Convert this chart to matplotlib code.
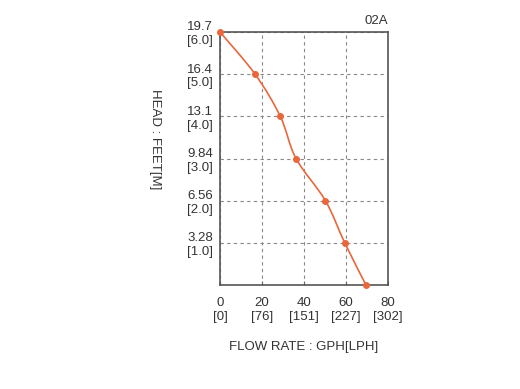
import numpy as np
import matplotlib.pyplot as plt
from matplotlib.path import Path
from matplotlib.patches import PathPatch

plt.rcParams['font.family'] = ['Liberation Sans', 'DejaVu Sans']

# pump curve: flow (GPH) vs head (m)
flow_gph = [0, 16.7, 28.7, 36.2, 50.2, 59.4, 69.5]
head_m = [6.0, 5.0, 4.0, 3.0, 2.0, 1.0, 0.0]

x_ticks = [0, 20, 40, 60, 80]
x_labels = ['0\n[0]', '20\n[76]', '40\n[151]', '60\n[227]', '80\n[302]']
y_ticks = [1, 2, 3, 4, 5, 6]
y_labels = ['3.28\n[1.0]', '6.56\n[2.0]', '9.84\n[3.0]', '13.1\n[4.0]',
            '16.4\n[5.0]', '19.7\n[6.0]']

line_col = '#e8673c'
text_col = '#333333'


def smooth_path(xs, ys, t=0.5):
    # catmull-rom style bezier through the points
    pts = np.column_stack([xs, ys]).astype(float)
    verts = [pts[0]]
    codes = [Path.MOVETO]
    n = len(pts)
    for i in range(n - 1):
        p0 = pts[i - 1] if i > 0 else pts[i]
        p1 = pts[i]
        p2 = pts[i + 1]
        p3 = pts[i + 2] if i + 2 < n else pts[i + 1]
        c1 = p1 + (p2 - p0) * t / 6
        c2 = p2 - (p3 - p1) * t / 6
        verts += [c1, c2, p2]
        codes += [Path.CURVE4] * 3
    return Path(verts, codes)


fig = plt.figure(figsize=(5.2, 3.89), dpi=100)
ax = fig.add_axes([220 / 520, 1 - 285 / 389, 168 / 520, 253 / 389])

ax.add_patch(PathPatch(smooth_path(flow_gph, head_m, t=1.0), fill=False,
                       edgecolor=line_col, lw=1.2, zorder=3, clip_on=False))
ax.plot(flow_gph, head_m, 'o', color=line_col, ms=4, zorder=4, clip_on=False)

ax.set_xlim(0, 80)
ax.set_ylim(0, 6)
ax.set_xticks(x_ticks)
ax.set_xticklabels(x_labels)
ax.set_yticks(y_ticks)
ax.set_yticklabels(y_labels)
ax.tick_params(direction='in', length=3, width=0.8, colors='#666666',
               labelcolor=text_col, labelsize=9.5)
ax.tick_params(axis='x', pad=9)
ax.tick_params(axis='y', length=0, pad=5)

ax.grid(True, ls=(0, (3, 3)), color='#888888', lw=0.8)
for s in ax.spines.values():
    s.set_color('#555555')
    s.set_linewidth(1.2)

ax.set_xlabel('FLOW RATE : GPH[LPH]', fontsize=9.5, color=text_col, labelpad=13)
ax.set_ylabel('HEAD : FEET[M]', fontsize=9.5, color=text_col, rotation=-90,
              va='center', ha='center')
ax.yaxis.set_label_coords(-0.387, 0.577)
ax.text(1.0, 1.02, '02A', transform=ax.transAxes, ha='right', va='bottom',
        fontsize=9.5, color=text_col)

fig.savefig('out.png', dpi=100)
